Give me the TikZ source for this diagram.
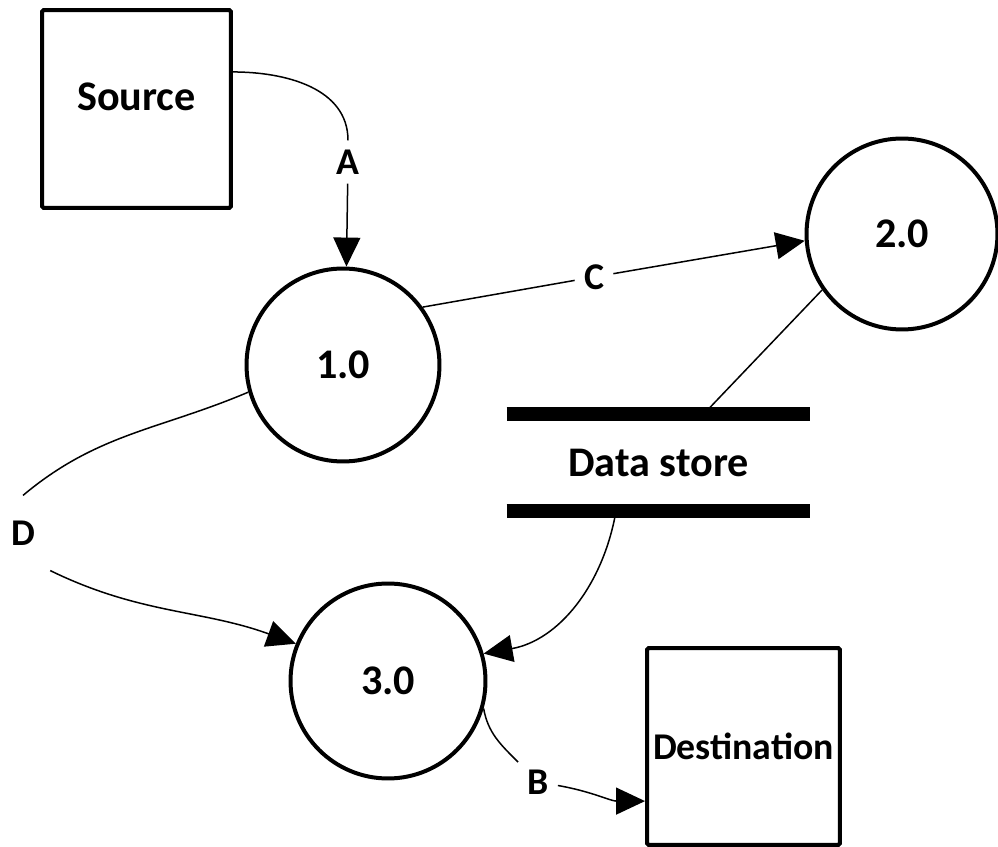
\documentclass[tikz,border=0pt]{standalone}
\usepackage{fontspec}
\setmainfont{Carlito}
\usepackage{tikz}
\usetikzlibrary{positioning, arrows.meta, shapes, calc}
\tikzstyle{entity} = [rectangle, rounded corners=1pt, line width=0.08cm, draw=black, minimum width=3.78cm, minimum height=3.96cm, inner sep=0pt, font=\fontsize{24}{28}\selectfont\bfseries]
\tikzstyle{process} = [circle, line width=0.08cm, draw=black, minimum size=3.86cm, inner sep=0pt, font=\fontsize{24}{28}\selectfont\bfseries]
\tikzstyle{store} = [rectangle, minimum width=6.06cm, minimum height=1.94cm, inner sep=0pt, font=\fontsize{24}{28}\selectfont\bfseries]
\tikzstyle{bar} = [line width=0.28cm]
\tikzstyle{flowlabel} = [inner sep=0.18cm, font=\fontsize{21.5}{25}\selectfont\bfseries]
\tikzstyle{line} = [line width=0.03cm]
\tikzstyle{arrow} = [line width=0.03cm, -{Triangle[length=0.58cm, width=0.54cm]}]

\begin{document}
\begin{tikzpicture}[x=0.02cm, y=-0.02cm]
    \useasboundingbox (0,0) rectangle (998,847);
    \node (src) [entity, text depth=0.48cm] at (136.5,109) {Source};
    \node (p1) [process] at (343,365) {1.0};
    \node (p2) [process, minimum size=3.82cm] at (902,234) {2.0};
    \node (p3) [process, minimum size=3.9cm] at (388,681) {3.0};
    \node (ds) [store] at (658.5,462.5) {Data store};
    \node (dst) [entity, minimum width=3.86cm, minimum height=3.94cm, font=\fontsize{21.5}{25}\selectfont\bfseries] at (743.5,746.5) {Destination};
    \node (lA) [flowlabel] at (348,162) {A};
    \node (lC) [flowlabel] at (594,277) {C};
    \node (lD) [flowlabel, inner xsep=0.3cm, inner ysep=0.5cm] at (23,533) {D};
    \node (lB) [flowlabel] at (538,782) {B};
    \draw [line] (src.21) to[out=0, in=90] (lA);
    \draw [arrow] (lA) -- (p1.88);
    \draw [line] (p1.36) -- (lC);
    \draw [arrow] (lC) -- (p2.184);
    \draw [line] (p2.215) -- ($(ds.north west)!0.65!(ds.north east)$);
    \draw [arrow] ($(ds.south west)!0.36!(ds.south east)$) to[out=-100, in=10] (p3.16);
    \draw [line] (p1.196) to[out=203, in=40] (lD.north);
    \draw [arrow] (lD.south east) to[out=-26, in=160] (p3.158);
    \draw [line] (p3.-16) to[out=-80, in=135] (lB);
    \draw [arrow] (lB) to[out=-10, in=180] (dst.209);
    \draw [bar] (ds.north west) -- (ds.north east);
    \draw [bar] (ds.south west) -- (ds.south east);
\end{tikzpicture}
\end{document}
